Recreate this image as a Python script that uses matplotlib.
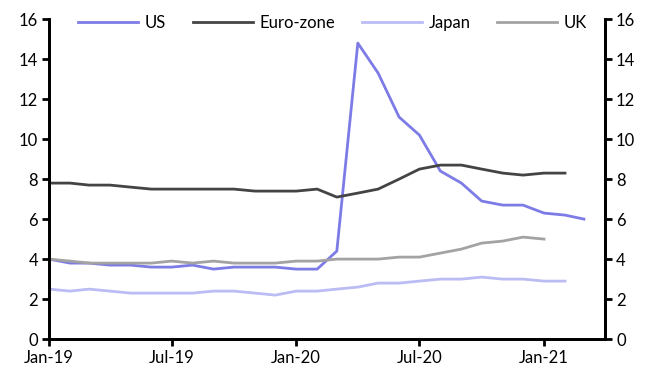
import pandas as pd
import matplotlib
import matplotlib.pyplot as plt

# Unemployment rates (%), monthly from Jan-19
us = [4.0, 3.8, 3.8, 3.7, 3.7, 3.6, 3.6, 3.7, 3.5, 3.6, 3.6, 3.6,
      3.5, 3.5, 4.4, 14.8, 13.3, 11.1, 10.2, 8.4, 7.8, 6.9, 6.7, 6.7,
      6.3, 6.2, 6.0]
euro = [7.8, 7.8, 7.7, 7.7, 7.6, 7.5, 7.5, 7.5, 7.5, 7.5, 7.4, 7.4,
        7.4, 7.5, 7.1, 7.3, 7.5, 8.0, 8.5, 8.7, 8.7, 8.5, 8.3, 8.2,
        8.3, 8.3]
japan = [2.5, 2.4, 2.5, 2.4, 2.3, 2.3, 2.3, 2.3, 2.4, 2.4, 2.3, 2.2,
         2.4, 2.4, 2.5, 2.6, 2.8, 2.8, 2.9, 3.0, 3.0, 3.1, 3.0, 3.0,
         2.9, 2.9]
uk = [4.0, 3.9, 3.8, 3.8, 3.8, 3.8, 3.9, 3.8, 3.9, 3.8, 3.8, 3.8,
      3.9, 3.9, 4.0, 4.0, 4.0, 4.1, 4.1, 4.3, 4.5, 4.8, 4.9, 5.1,
      5.0]
tick_labels = ['Jan-19', 'Jul-19', 'Jan-20', 'Jul-20', 'Jan-21']

months = pd.date_range('2019-01-01', periods=len(us), freq='MS')

matplotlib.rcParams['font.family'] = 'Lato'
matplotlib.rcParams['font.size'] = 12

fig = plt.figure(figsize=(6.54, 3.67), dpi=100)
ax = fig.add_axes([0.075, 0.076, 0.85, 0.872])

ax.plot(months, us, color='#7d7be6', lw=2, label='US')
ax.plot(months[:len(euro)], euro, color='#444444', lw=2, label='Euro-zone')
ax.plot(months[:len(japan)], japan, color='#bcbcf4', lw=2, label='Japan')
ax.plot(months[:len(uk)], uk, color='#a3a3a3', lw=2, label='UK')

ax.set_xlim(pd.Timestamp('2019-01-01'), pd.Timestamp('2021-04-01'))
ax.set_ylim(0, 16)
ax.set_yticks(range(0, 17, 2))
ticks = pd.date_range('2019-01-01', periods=len(tick_labels), freq='6MS')
ax.set_xticks(ticks)
ax.set_xticklabels(tick_labels)

ax2 = ax.twinx()
ax2.set_ylim(0, 16)
ax2.set_yticks(range(0, 17, 2))

for a in (ax, ax2):
    a.spines['top'].set_visible(False)
    for s in ('left', 'right', 'bottom'):
        a.spines[s].set_linewidth(2)
    a.tick_params(width=2, length=5, labelsize=12, pad=3)

ax.legend(loc='upper center', bbox_to_anchor=(0.51, 1.06), ncol=4,
          frameon=False, handlelength=3.6, columnspacing=1.6,
          handletextpad=0.4, fontsize=12)

fig.savefig('out.png', dpi=100)
